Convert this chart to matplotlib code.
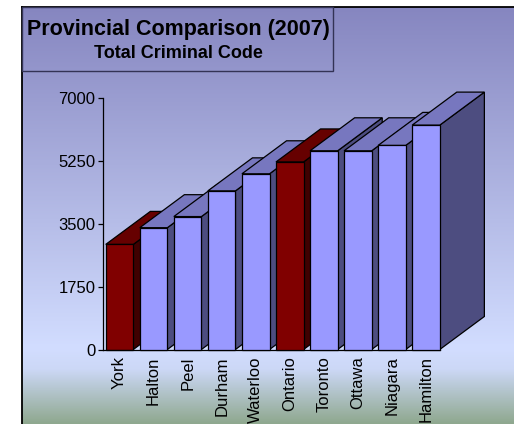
import matplotlib
matplotlib.use('Agg')
import matplotlib.pyplot as plt
import numpy as np
from matplotlib.colors import LinearSegmentedColormap
from matplotlib.patches import Polygon, Rectangle

plt.rcParams['font.family'] = ['Liberation Sans', 'DejaVu Sans']

# values
cities = ['York', 'Halton', 'Peel', 'Durham', 'Waterloo', 'Ontario',
          'Toronto', 'Ottawa', 'Niagara', 'Hamilton']
crimes = [2925, 3390, 3700, 4415, 4890, 5220, 5530, 5530, 5680, 6245]
highlight = ['York', 'Ontario']
yticks = [0, 1750, 3500, 5250, 7000]

W, H = 514, 424
fig = plt.figure(figsize=(W / 100, H / 100), dpi=100, facecolor='white')

# background panel with the gradient
bg = fig.add_axes([22 / W, 0, 1 - 22 / W, 1 - 7 / H], zorder=0)
cmap = LinearSegmentedColormap.from_list('bg', [
    (0.0, '#8686c0'), (0.82, '#d2ddff'), (0.87, '#ccd8f6'), (1.0, '#8fa88f')])
bg.imshow(np.linspace(0, 1, 256).reshape(-1, 1), aspect='auto', cmap=cmap)
bg.set_xticks([])
bg.set_yticks([])
for s in ['right', 'bottom']:
    bg.spines[s].set_visible(False)
for s in ['top', 'left']:
    bg.spines[s].set_linewidth(1.3)

# title box
fig.add_artist(Rectangle((22 / W, 1 - 71 / H), 311 / W, 64 / H, transform=fig.transFigure,
                         facecolor='none', edgecolor='#333355', linewidth=1))
fig.text(178.5 / W, 1 - 29.5 / H, 'Provincial Comparison (2007)', ha='center', va='center',
         fontsize=15.5, fontweight='bold', color='black')
fig.text(178 / W, 1 - 53 / H, 'Total Criminal Code', ha='center', va='center',
         fontsize=13, fontweight='bold', color='black')

# chart axes
ax = fig.add_axes([102.5 / W, 1 - 349.5 / H, 340.5 / W, 251.5 / H], zorder=1)
ax.patch.set_visible(False)
ax.set_xlim(0, 10)
ax.set_ylim(0, 7000)

bar_w = 0.81
dx = 1.31   # depth of the fake 3d, x units
dy = 919    # depth of the fake 3d, y units

for i, (name, val) in enumerate(zip(cities, crimes)):
    if name in highlight:
        front, top, side = '#800000', '#660000', '#400000'
    else:
        front, top, side = '#9999ff', '#7777bf', '#4d4d80'
    x0 = i + 0.5 - bar_w / 2
    x1 = x0 + bar_w
    z = 2 + i
    ax.add_patch(Polygon([(x1, 0), (x1 + dx, dy), (x1 + dx, val + dy), (x1, val)], closed=True,
                         facecolor=side, edgecolor='black', linewidth=0.9, clip_on=False, zorder=z))
    ax.add_patch(Polygon([(x0, val), (x0 + dx, val + dy), (x1 + dx, val + dy), (x1, val)], closed=True,
                         facecolor=top, edgecolor='black', linewidth=0.9, clip_on=False, zorder=z))
    ax.add_patch(Rectangle((x0, 0), bar_w, val, facecolor=front, edgecolor='black',
                           linewidth=0.9, clip_on=False, zorder=z))

for s in ['top', 'right']:
    ax.spines[s].set_visible(False)
ax.spines['left'].set_linewidth(0.9)
ax.spines['bottom'].set_linewidth(0.9)
ax.spines['bottom'].set_bounds(0, 9.9)

ax.set_yticks(yticks)
ax.set_yticklabels([str(v) for v in yticks], fontsize=12)
ax.tick_params(axis='y', length=3.6, width=0.9, pad=1.5)
ax.set_xticks(np.arange(len(cities)) + 0.5)
ax.set_xticklabels(cities, rotation=90, fontsize=12, va='top', ha='center')
ax.tick_params(axis='x', length=0, pad=5)

fig.savefig('out.png', dpi=100)
